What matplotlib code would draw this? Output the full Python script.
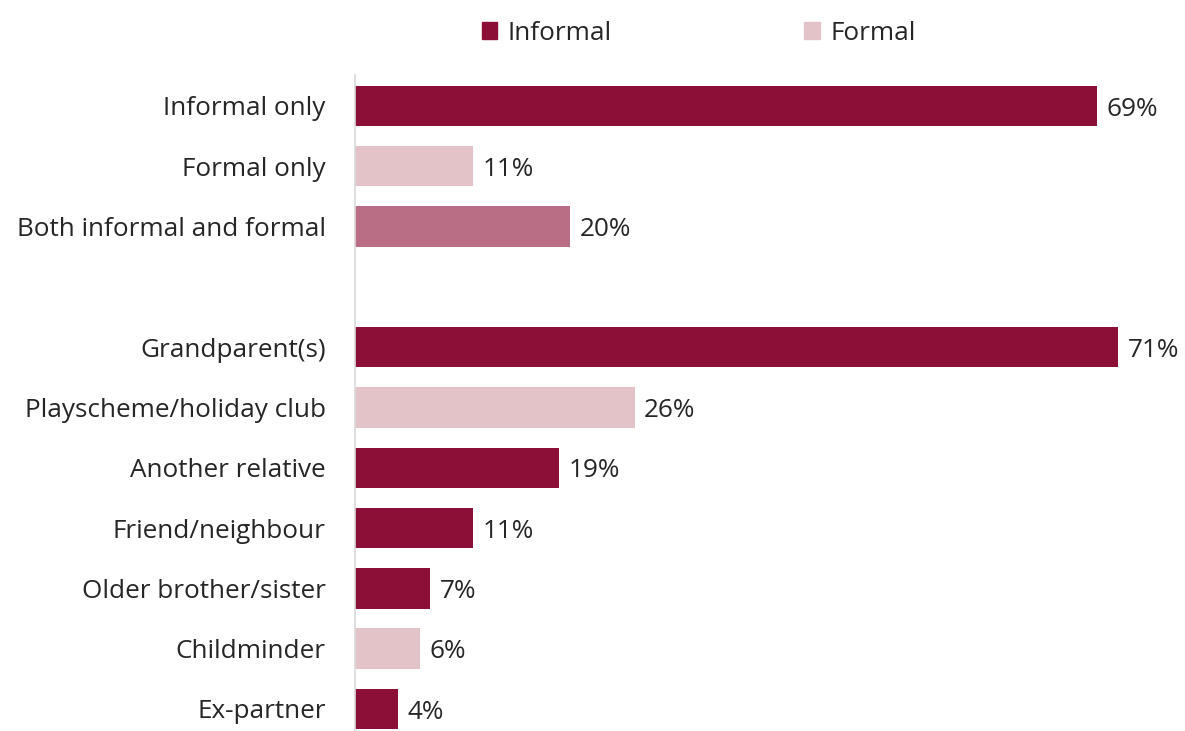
import matplotlib.pyplot as plt
from matplotlib.patches import Patch

# childcare used by parents, % of those using any
labels = ["Informal only", "Formal only", "Both informal and formal", "",
          "Grandparent(s)", "Playscheme/holiday club", "Another relative",
          "Friend/neighbour", "Older brother/sister", "Childminder", "Ex-partner"]
values = [69, 11, 20, None, 71, 26, 19, 11, 7, 6, 4]
kinds = ["informal", "formal", "both", None, "informal", "formal", "informal",
         "informal", "informal", "formal", "informal"]

colours = {"informal": "#8C0F37", "formal": "#E3C3C7", "both": "#B96E85"}
text_col = "#262626"
fs = 18.8

plt.rcParams['font.family'] = ['Open Sans', 'DejaVu Sans']

fig = plt.figure(figsize=(11.85, 7.31), dpi=100)
W, H = 1185, 731
ax = fig.add_axes([355 / W, 0, (W - 355) / W, (H - 75) / H])

for i, (v, k) in enumerate(zip(values, kinds)):
    if v is None:
        continue
    ax.barh(i, v, height=0.67, color=colours[k])
    ax.text(v + 0.9, i + 0.05, f"{v}%", va="center", ha="left", fontsize=fs, color=text_col)

ax.set_xlim(0, (W - 355) / 10.75)
ax.set_ylim(10.365, -0.514)
ax.set_yticks(range(len(labels)))
ax.set_yticklabels(labels, fontsize=fs, color=text_col)
ax.tick_params(axis="y", length=0, pad=21)
ax.set_xticks([])
for s in ["top", "right", "bottom"]:
    ax.spines[s].set_visible(False)
ax.spines["left"].set_color("#D9D9D9")
ax.spines["left"].set_linewidth(1.2)

handles = [Patch(color=colours["informal"], label="Informal"),
           Patch(color=colours["formal"], label="Formal")]
fig.legend(handles=handles, loc="center", bbox_to_anchor=(0.5895, 1 - 33 / H), ncol=2,
           frameon=False, fontsize=fs, handlelength=0.6, handleheight=0.6,
           handletextpad=0.4, columnspacing=7.35, labelcolor=text_col)

fig.savefig("out.png", dpi=100)
